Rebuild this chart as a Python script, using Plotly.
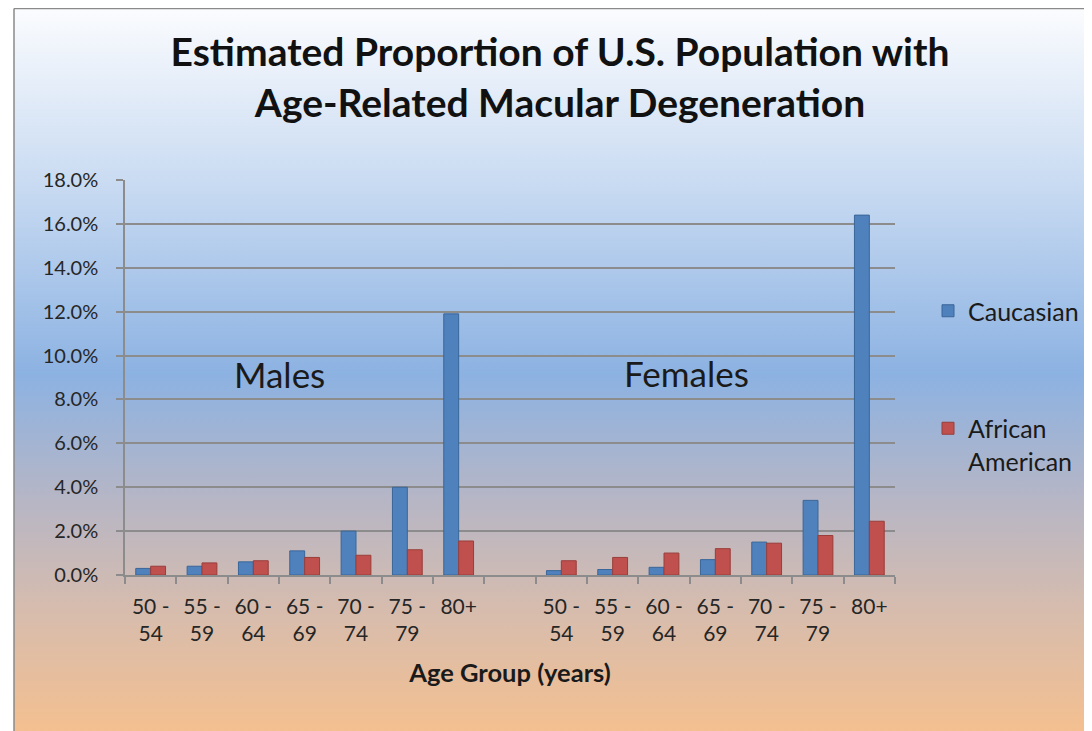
import base64
import plotly.graph_objects as go

# ---------------- data ----------------
age_groups = ["50 - 54", "55 - 59", "60 - 64", "65 - 69", "70 - 74", "75 - 79", "80+"]
males_caucasian = [0.3, 0.4, 0.6, 1.1, 2.0, 4.0, 11.9]
males_african_american = [0.4, 0.55, 0.65, 0.8, 0.9, 1.15, 1.55]
females_caucasian = [0.2, 0.25, 0.35, 0.7, 1.5, 3.4, 16.4]
females_african_american = [0.65, 0.8, 1.0, 1.2, 1.45, 1.8, 2.45]
y_tick_values = [0, 2, 4, 6, 8, 10, 12, 14, 16, 18]
y_tick_labels = ["%.1f%%" % v for v in y_tick_values]
series_names = ["Caucasian", "African<br>American"]
group_labels = ["Males", "Females"]

# ---------------- layout geometry ----------------
OFF = 8                      # page margin of the html body
W, H = 1092 - OFF, 731 - OFF
SL, SR, ST, SB = 125, 895, 180, 575   # plot area edges in screen pixels
PL, PR, PT, PB = SL - OFF, SR - OFF, ST - OFF, SB - OFF


def px_x(sx):
    return (sx - SL) / (SR - SL)


def px_y(sy):
    return (SB - sy) / (SB - ST)


FONT = "Lato"

x_ids = ["M%d" % i for i in range(len(age_groups))] + ["gap"] + ["F%d" % i for i in range(len(age_groups))]
tick_text = [g.replace(" - ", " -<br>") for g in age_groups] + [""] + [g.replace(" - ", " -<br>") for g in age_groups]
cauc = males_caucasian + [None] + females_caucasian
afam = males_african_american + [None] + females_african_american

fig = go.Figure()
fig.add_trace(go.Bar(
    x=x_ids, y=cauc, name=series_names[0], legendgroup="a",
    marker=dict(color="#4F81BD", line=dict(color="#3A6699", width=1)),
))
fig.add_trace(go.Bar(
    x=x_ids, y=afam, name=series_names[1], legendgroup="b",
    marker=dict(color="#C0504D", line=dict(color="#983E3B", width=1)),
))

# background gradient (chart area)
svg = ('<svg xmlns="http://www.w3.org/2000/svg" width="100" height="100" viewBox="0 0 100 100" '
       'preserveAspectRatio="none"><defs><linearGradient id="g" x1="0" y1="0" x2="0" y2="1">'
       '<stop offset="0" stop-color="#fbfcfe"/>'
       '<stop offset="0.24" stop-color="#c9dbf2"/>'
       '<stop offset="0.50" stop-color="#8cb2e2"/>'
       '<stop offset="0.68" stop-color="#b8b6c4"/>'
       '<stop offset="0.82" stop-color="#d6bcae"/>'
       '<stop offset="1" stop-color="#f6c08e"/>'
       '</linearGradient></defs><rect width="100" height="100" fill="url(#g)"/></svg>')
src = "data:image/svg+xml;base64," + base64.b64encode(svg.encode()).decode()

fig.add_layout_image(dict(
    source=src, xref="paper", yref="paper",
    x=px_x(14), y=px_y(OFF), sizex=(1100 - 14) / (SR - SL), sizey=(740 - OFF) / (SB - ST),
    xanchor="left", yanchor="top", sizing="stretch", layer="below",
))

# chart frame (left and top edges)
fig.add_shape(type="line", xref="paper", yref="paper", x0=px_x(14), x1=px_x(14), y0=px_y(OFF + 0.5), y1=px_y(745),
              line=dict(color="#8a8a8a", width=1.5))
fig.add_shape(type="line", xref="paper", yref="paper", x0=px_x(14), x1=px_x(1100), y0=px_y(OFF + 0.5), y1=px_y(OFF + 0.5),
              line=dict(color="#8a8a8a", width=1.5))

# group labels
fig.add_annotation(x=2.5, y=9.15, xref="x", yref="y", text=group_labels[0], showarrow=False,
                   font=dict(family=FONT, size=35, color="#1a1a1a"))
fig.add_annotation(x=10.43, y=9.2, xref="x", yref="y", text=group_labels[1], showarrow=False,
                   font=dict(family=FONT, size=35, color="#1a1a1a"))

fig.update_layout(
    width=W, height=H,
    margin=dict(l=PL, r=W - PR, t=PT, b=H - PB, pad=0, autoexpand=False),
    paper_bgcolor="white", plot_bgcolor="rgba(0,0,0,0)",
    barmode="group", bargap=0.42, bargroupgap=0,
    title=dict(text="<b>Estimated Proportion of U.S. Population with<br>Age-Related Macular Degeneration</b>",
               x=(560 - OFF) / W, xanchor="center", y=1 - (66 - OFF) / H, yanchor="middle",
               font=dict(family=FONT, size=39, color="#111111")),
    font=dict(family=FONT, color="#262626"),
    legend=dict(x=px_x(928), y=px_y(288), xanchor="left", yanchor="top", valign="top",
                font=dict(family=FONT, size=25, color="#1a1a1a"),
                tracegroupgap=82, bgcolor="rgba(0,0,0,0)"),
    xaxis=dict(type="category", categoryorder="array", categoryarray=x_ids,
               tickvals=x_ids, ticktext=tick_text, tickson="boundaries",
               ticks="outside", ticklen=7, tickcolor="#8c8c8c", tickwidth=1.5,
               showline=True, linecolor="#8c8c8c", linewidth=1.5,
               ticklabelstandoff=12,
               tickfont=dict(family=FONT, size=21, color="#262626"),
               range=[-0.5, len(x_ids) - 0.5],
               title=dict(text="<b>Age Group (years)</b>", standoff=20,
                          font=dict(family=FONT, size=25.5, color="#1a1a1a"))),
    yaxis=dict(range=[0, 18], tickvals=y_tick_values, ticktext=y_tick_labels,
               ticks="outside", ticklen=7, tickcolor="#8c8c8c", tickwidth=1.5,
               showline=True, linecolor="#8c8c8c", linewidth=1.5,
               showgrid=True, gridcolor="#8c8c8c", gridwidth=1.5, zeroline=False,
               ticklabelstandoff=14,
               tickfont=dict(family=FONT, size=20, color="#262626")),
)

fig.write_html("out.html")
